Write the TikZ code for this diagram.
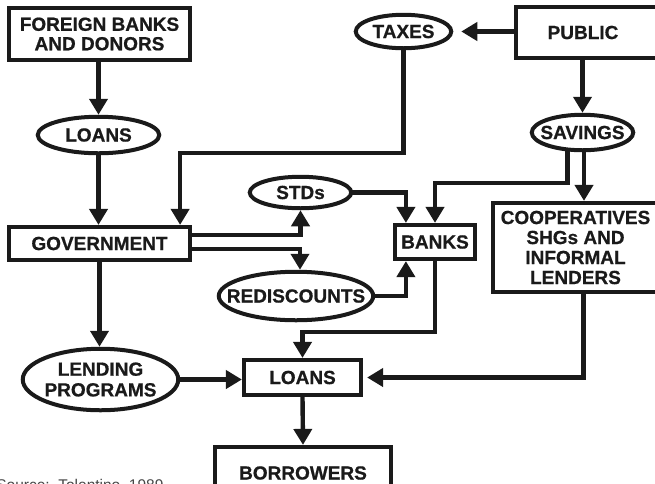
\documentclass[tikz,border=0pt]{standalone}
\usepackage{fontspec}
\setmainfont{Liberation Sans}[BoldFeatures={FakeBold=0.7}]
\usetikzlibrary{arrows.meta,shapes.geometric,backgrounds}
\definecolor{ink}{HTML}{1A1A1A}
\begin{document}
\begin{tikzpicture}[x=1pt,y=-1pt,
  every node/.style={font=\fontsize{19}{19.5}\selectfont\bfseries, text=ink, align=center},
  box/.style={draw=ink, line width=4.2pt, fill=white, rectangle, inner sep=0pt},
  oval/.style={draw=ink, line width=4pt, fill=white, ellipse, inner sep=-30pt},
  arr/.style={draw=ink, line width=4.4pt, -{Triangle[length=16pt,width=18pt]}},
]
\useasboundingbox (0,0) rectangle (655,483);
\clip (0,0) rectangle (655,483);

% sources of funds
\node[box, minimum width=181pt, minimum height=52pt] (fb) at (99.5,34) {FOREIGN BANKS\\AND DONORS};
\node[box, minimum width=152pt, minimum height=51pt] (public) at (592,32.5) {PUBLIC\rule{18pt}{0pt}};
\node[oval, minimum width=121.5pt, minimum height=36.5pt] (loans1) at (98.5,135) {LOANS};
\node[oval, minimum width=95.5pt, minimum height=33.5pt] (taxes) at (403.5,31.5) {TAXES};
\node[oval, minimum width=101.5pt, minimum height=35.5pt] (savings) at (582.5,132.5) {SAVINGS};

% intermediaries
\node[box, minimum width=181pt, minimum height=33pt] (gov) at (99.5,243.5) {GOVERNMENT};
\node[oval, minimum width=101.5pt, minimum height=31.5pt] (stds) at (300.5,192.5) {STDs};
\node[oval, minimum width=154.5pt, minimum height=48.5pt] (redis) at (296,296) {REDISCOUNTS};
\node[box, minimum width=80pt, minimum height=34pt] (banks) at (435,242) {BANKS};
\node[box, minimum width=165pt, minimum height=89pt, font=\fontsize{19}{20}\selectfont\bfseries] (coop) at (575.5,247.5)
  {COOPERATIVES\\SHGs AND\\INFORMAL\\LENDERS};
\node[oval, minimum width=155.5pt, minimum height=61.5pt, font=\fontsize{19}{20.7}\selectfont\bfseries] (lending) at (100.5,379.5)
  {LENDING\\PROGRAMS};

% end use
\node[box, minimum width=117pt, minimum height=35pt] (loans2) at (302.5,377.5) {LOANS};
\node[box, minimum width=176pt, minimum height=52pt] (borrowers) at (303,473) {BORROWERS};

\node[anchor=base east, font=\fontsize{15.5}{18}\selectfont, text=black!72] (src) at (167,490) {Source:\ \ Tolentino, 1989};

% flows
\begin{scope}[on background layer]
  \draw[arr] (fb.south -| loans1) -- (loans1.north);
  \draw[arr] (loans1.south) -- (loans1.south |- gov.north);
  \draw[arr] (taxes.center) -- ++(0,121.5) -| ([xshift=-12pt]gov.north east);
  \draw[arr, shorten >=8pt] (public.west |- taxes.east) -- (taxes.east);
  \draw[arr] (public.south -| savings) -- (savings.north);
  \draw[arr] ([xshift=-15pt]savings.center) -- ++(0,50.5) -| (banks.north);
  \draw[arr] ([xshift=1.5pt]savings.center) -- ([xshift=1.5pt]savings.center |- coop.north);
  \draw[arr] (stds.center) -| ([xshift=13pt]banks.north west);
  \draw[arr] ([yshift=8.5pt]gov.center) -| (stds.south);
  \draw[arr] ([yshift=-5.5pt]gov.center) -| ([xshift=4pt]redis.north);
  \draw[arr] (redis.center) -| ([xshift=13pt]banks.south west);
  \draw[arr] (banks.center) -- ++(0,90) -| (loans2.north);
  \draw[arr] (gov.center) -- (gov.center |- lending.north);
  \draw[arr] (lending.center) -- (lending.center -| loans2.west);
  \draw[arr, shorten >=4pt] ([xshift=8pt]coop.center) |- (loans2.east);
  \draw[arr] (loans2.south) -- (borrowers.north);
\end{scope}
\end{tikzpicture}
\end{document}
